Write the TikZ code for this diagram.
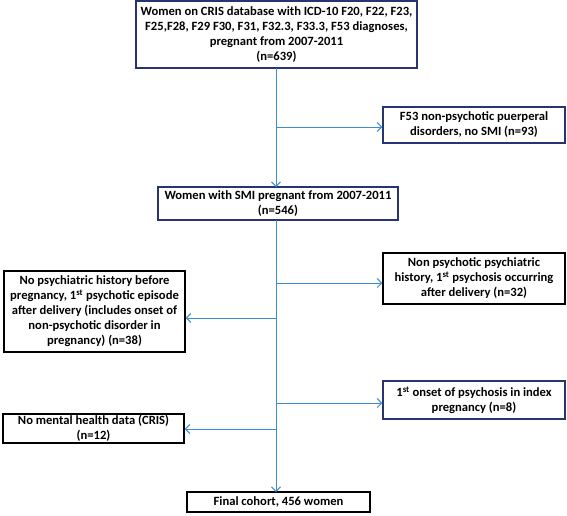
\documentclass[tikz,border=0pt]{standalone}
\usepackage{fontspec}
\setmainfont{Carlito}
\usetikzlibrary{arrows.meta}
\definecolor{navyb}{RGB}{40,52,112}
\definecolor{arrblue}{RGB}{60,140,210}
\begin{document}
\begin{tikzpicture}[x=1pt,y=-1pt,
  box/.style={draw=black, line width=1.2pt, rectangle, align=center, inner sep=1pt,
    font=\fontsize{12.6}{15}\selectfont\bfseries},
  nbox/.style={box, draw=navyb},
  arr/.style={draw=arrblue, line width=1pt, -{Straight Barb[length=4.5pt,width=9pt]}},
  ln/.style={draw=arrblue, line width=1pt}]
\useasboundingbox (0,0) rectangle (567,515);
\node[nbox, minimum width=281pt, minimum height=67pt] (top) at (276.5,34.5)
  {Women on CRIS database with ICD-10 F20, F22, F23,\\F25,F28, F29 F30, F31, F32.3, F33.3, F53 diagnoses,\\pregnant from 2007-2011\\(n=639)};
\node[nbox, minimum width=182pt, minimum height=36pt] (f53) at (474,125)
  {F53 non-psychotic puerperal\\disorders, no SMI (n=93)};
\node[nbox, minimum width=240pt, minimum height=33pt] (smi) at (278,203.5)
  {Women with SMI pregnant from 2007-2011\\(n=546)};
\node[box, minimum width=181pt, minimum height=81pt] (n38) at (94.5,311.5)
  {No psychiatric history before\\pregnancy, 1\textsuperscript{st} psychotic episode\\after delivery (includes onset of\\non-psychotic disorder in\\pregnancy) (n=38)};
\node[box, minimum width=182pt, minimum height=51pt] (n32) at (474,278.5)
  {Non psychotic psychiatric\\history, 1\textsuperscript{st} psychosis occurring\\after delivery (n=32)};
\node[box, minimum width=181pt, minimum height=29pt] (n12) at (93.5,428.5)
  {No mental health data (CRIS)\\(n=12)};
\node[nbox, minimum width=182pt, minimum height=38pt] (n8) at (474,400)
  {1\textsuperscript{st} onset of psychosis in index\\pregnancy (n=8)};
\node[box, minimum width=183pt, minimum height=20pt] (fin) at (278.5,502)
  {Final cohort, 456 women};
\coordinate (t1) at (276,68);
\coordinate (t2) at (276,187);
\coordinate (t3) at (276,220);
\coordinate (t4) at (276,492);
\coordinate (b1) at (276,127);
\coordinate (b2) at (276,283);
\coordinate (b3) at (276,318);
\coordinate (b4) at (276,403);
\coordinate (b5) at (276,429);
\draw[arr] (t1) -- (t2);
\draw[arr] (t3) -- (t4);
\draw[arr] (b1) -- (b1 -| f53.west);
\draw[arr] (b2) -- (b2 -| n32.west);
\draw[arr] (b3) -- (b3 -| n38.east);
\draw[arr] (b4) -- (b4 -| n8.west);
\draw[arr] (b5) -- (b5 -| n12.east);
\end{tikzpicture}
\end{document}
